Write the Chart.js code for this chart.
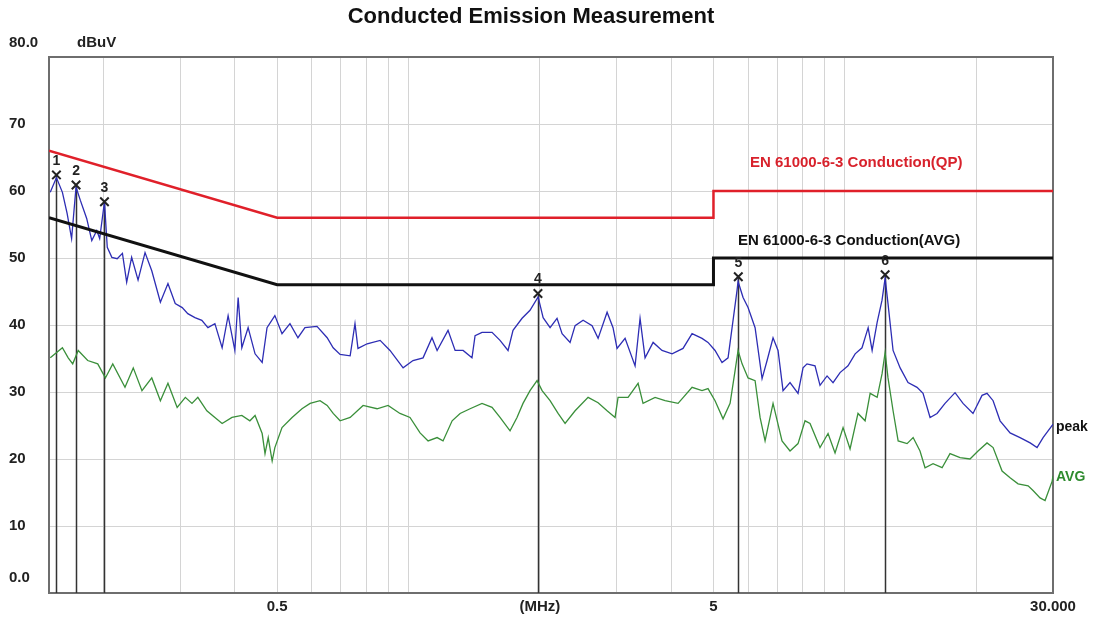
<!DOCTYPE html>
<html>
<head>
<meta charset="utf-8">
<title>Conducted Emission Measurement</title>
<script src="https://cdn.jsdelivr.net/npm/chart.js@4.4.1/dist/chart.umd.min.js"></script>
<style>
  html, body { margin: 0; padding: 0; background: #fff; }
  #wrap { width: 1097px; height: 618px; }
</style>
</head>
<body>
<div id="wrap"><canvas id="emissionChart"></canvas></div>
<script>
// Limit lines (MHz / dBuV)
const limitFreq = [0.15, 0.5, 5, 5, 30];
const qpLimit = [66, 56, 56, 60, 60];
const avgLimit = [56, 46, 46, 50, 50];

// Peak trace
const peakFreq = [0.151, 0.156, 0.161, 0.165, 0.169, 0.173, 0.177, 0.183, 0.188, 0.193, 0.196, 0.201, 0.204, 0.209, 0.215,
  0.221, 0.226, 0.232, 0.240, 0.249, 0.258, 0.270, 0.281, 0.292, 0.303, 0.312, 0.324, 0.336, 0.347, 0.360, 0.374, 0.386,
  0.400, 0.407, 0.415, 0.429, 0.445, 0.462, 0.474, 0.494, 0.513, 0.535, 0.558, 0.579, 0.617, 0.651, 0.672, 0.697, 0.735,
  0.754, 0.766, 0.804, 0.861, 0.907, 0.972, 1.024, 1.080, 1.132, 1.163, 1.232, 1.279, 1.334, 1.398, 1.421, 1.474, 1.554,
  1.621, 1.691, 1.736, 1.821, 1.899, 1.982, 2.035, 2.111, 2.190, 2.249, 2.346, 2.409, 2.513, 2.635, 2.720, 2.852, 2.943,
  3.006, 3.136, 3.306, 3.394, 3.485, 3.636, 3.811, 4.019, 4.258, 4.466, 4.707, 4.858, 5.042, 5.231, 5.400, 5.516, 5.663,
  5.693, 5.845, 6.001, 6.228, 6.462, 6.635, 6.847, 7.030, 7.218, 7.489, 7.812, 8.021, 8.191, 8.545, 8.773, 9.105, 9.397,
  9.751, 10.17, 10.56, 10.95, 11.31, 11.55, 11.86, 12.17, 12.37, 12.56, 12.90, 13.39, 13.96, 14.64, 15.11, 15.68, 16.27,
  16.97, 17.89, 18.66, 19.67, 20.63, 21.18, 21.87, 22.69, 23.92, 25.21, 26.59, 27.58, 28.47, 29.87, 30];
const peakLevel = [59.8, 62.0, 59.8, 56.7, 52.9, 60.6, 58.6, 55.9, 52.6, 54.1, 52.9, 58.4, 51.6, 50.1, 49.9,
  50.7, 46.4, 50.1, 46.7, 50.8, 48.1, 43.4, 46.2, 43.2, 42.6, 41.7, 41.1, 40.7, 39.6, 40.2, 36.6, 41.4,
  36.2, 44.1, 36.6, 39.6, 35.7, 34.4, 39.6, 41.4, 38.7, 40.2, 38.1, 39.6, 39.8, 38.1, 36.6, 35.6, 35.4,
  40.2, 36.5, 37.2, 37.7, 36.2, 33.6, 34.7, 35.1, 38.1, 36.2, 39.2, 36.2, 36.2, 35.1, 38.4, 38.9, 38.9,
  37.7, 36.2, 39.2, 41.0, 42.2, 44.2, 41.1, 39.6, 41.0, 38.7, 37.4, 39.9, 40.7, 39.9, 38.0, 41.9, 39.6,
  36.5, 38.0, 33.9, 41.0, 35.1, 37.4, 36.2, 35.7, 36.5, 38.7, 38.0, 37.4, 36.2, 34.4, 35.1, 39.6, 45.2,
  46.5, 44.1, 42.6, 39.6, 32.0, 34.7, 38.1, 36.2, 30.2, 31.4, 29.8, 33.6, 34.2, 33.9, 31.0, 32.4, 31.4,
  32.9, 33.9, 35.7, 36.6, 39.6, 36.2, 40.4, 43.7, 47.0, 43.2, 36.2, 33.6, 31.4, 30.7, 29.8, 26.2, 26.8,
  28.3, 29.9, 28.3, 26.8, 29.5, 29.8, 28.7, 25.7, 23.9, 23.2, 22.4, 21.7, 23.2, 25.0, 25.2];

// Average trace
const avgFreq = [0.151, 0.161, 0.166, 0.170, 0.175, 0.184, 0.194, 0.202, 0.210, 0.224, 0.234, 0.245, 0.258, 0.270, 0.281,
  0.295, 0.308, 0.319, 0.329, 0.345, 0.360, 0.374, 0.394, 0.415, 0.433, 0.445, 0.462, 0.469, 0.477, 0.487, 0.494, 0.513,
  0.541, 0.570, 0.595, 0.627, 0.651, 0.672, 0.697, 0.735, 0.787, 0.847, 0.898, 0.956, 1.008, 1.063, 1.109, 1.163, 1.200,
  1.259, 1.313, 1.384, 1.474, 1.554, 1.621, 1.709, 1.773, 1.830, 1.899, 1.971, 2.024, 2.111, 2.202, 2.285, 2.409, 2.580,
  2.720, 2.852, 2.975, 3.022, 3.186, 3.359, 3.448, 3.674, 3.873, 4.148, 4.466, 4.707, 4.858, 5.042, 5.259, 5.458, 5.604,
  5.693, 5.815, 6.001, 6.228, 6.394, 6.565, 6.847, 7.179, 7.489, 7.812, 8.106, 8.323, 8.773, 9.153, 9.497, 9.908, 10.28,
  10.72, 11.13, 11.43, 11.86, 12.17, 12.37, 12.56, 12.90, 13.25, 13.89, 14.34, 14.87, 15.27, 15.93, 16.71, 17.42, 18.37,
  19.36, 20.20, 21.18, 21.87, 22.93, 23.92, 24.95, 26.31, 27.00, 28.02, 28.77, 29.87, 30];
const avgLevel = [35.1, 36.6, 35.1, 34.2, 36.2, 34.7, 34.2, 32.1, 34.2, 30.7, 33.6, 30.2, 32.1, 28.7, 31.3,
  27.7, 29.2, 28.3, 29.2, 27.2, 26.2, 25.3, 26.2, 26.5, 25.7, 26.5, 23.8, 20.8, 23.2, 19.7, 21.7, 24.7,
  26.2, 27.5, 28.3, 28.7, 28.0, 26.8, 25.7, 26.2, 28.0, 27.5, 28.0, 26.8, 26.2, 23.9, 22.7, 23.2, 22.7,
  25.7, 26.8, 27.5, 28.3, 27.7, 26.2, 24.2, 26.2, 28.3, 30.2, 31.7, 30.2, 28.7, 26.8, 25.3, 27.2, 29.2,
  28.4, 27.2, 26.2, 29.2, 29.2, 31.3, 28.3, 29.2, 28.7, 28.3, 30.7, 30.2, 30.5, 28.7, 26.0, 28.3, 33.2,
  36.2, 34.2, 32.1, 31.7, 26.2, 22.7, 28.3, 22.7, 21.2, 22.3, 25.7, 25.3, 21.7, 23.8, 20.9, 24.7, 21.5,
  26.8, 25.7, 29.8, 29.2, 32.7, 35.9, 32.1, 27.2, 22.7, 22.3, 23.2, 21.2, 18.7, 19.3, 18.7, 20.8, 20.2,
  20.0, 21.2, 22.4, 21.7, 18.2, 17.2, 16.3, 16.0, 15.3, 14.2, 13.8, 16.7, 17.5];

// Marked peaks 1..6
const markerFreq = [0.156, 0.173, 0.201, 1.98, 5.70, 12.37];
const markerLevel = [62.4, 60.9, 58.4, 44.7, 47.2, 47.5];

// Axis ticks
const gridFreq = [0.15, 0.2, 0.3, 0.4, 0.5, 0.6, 0.7, 0.8, 0.9, 1, 2, 3, 4, 5, 6, 7, 8, 9, 10, 20, 30];
const xLabelFreq = [0.5, 2, 5, 30];
const xLabelText = ["0.5", "(MHz)", "5", "30.000"];

const toPoints = (xs, ys) => xs.map((f, i) => ({ x: f, y: ys[i] }));

const FONT = "Arial, 'Liberation Sans', sans-serif";

// Frame, marker drop lines and the loose text labels
const overlay = {
    id: "overlay",
    beforeDatasetsDraw(chart) {
        const { ctx, chartArea: a, scales: { x, y } } = chart;
        ctx.save();
        ctx.strokeStyle = "#6e6e6e";
        ctx.lineWidth = 2;
        ctx.strokeRect(a.left, a.top, a.right - a.left, a.bottom - a.top);

        ctx.strokeStyle = "#333";
        ctx.lineWidth = 1.5;
        markerFreq.forEach((f, i) => {
            const px = Math.round(x.getPixelForValue(f)) + 0.5;
            ctx.beginPath();
            ctx.moveTo(px, y.getPixelForValue(markerLevel[i]));
            ctx.lineTo(px, a.bottom);
            ctx.stroke();
        });
        ctx.restore();
    },
    afterDatasetsDraw(chart) {
        const { ctx, scales: { x, y } } = chart;
        ctx.save();
        ctx.textBaseline = "middle";

        // marker numbers
        ctx.font = `bold 14px ${FONT}`;
        ctx.fillStyle = "#222";
        ctx.textAlign = "center";
        markerFreq.forEach((f, i) => {
            ctx.fillText(String(i + 1), x.getPixelForValue(f), y.getPixelForValue(markerLevel[i]) - 14);
        });

        ctx.textAlign = "left";
        ctx.font = `bold 15px ${FONT}`;
        ctx.fillStyle = "#222";
        ctx.fillText("80.0", 9, 43);
        ctx.fillText("0.0", 9, 578);
        ctx.fillText("dBuV", 77, 43);

        ctx.fillStyle = "#d8222c";
        ctx.fillText("EN 61000-6-3 Conduction(QP)", 750, 163);
        ctx.fillStyle = "#111";
        ctx.fillText("EN 61000-6-3 Conduction(AVG)", 738, 241);

        ctx.font = `bold 14px ${FONT}`;
        ctx.fillStyle = "#111";
        ctx.fillText("peak", 1056, 427);
        ctx.fillStyle = "#2e8b2e";
        ctx.fillText("AVG", 1056, 477);
        ctx.restore();
    },
};

document.addEventListener("DOMContentLoaded", () => {
    const canvas = document.getElementById("emissionChart");

    new Chart(canvas, {
        type: "scatter",
        data: {
            datasets: [
                {
                    label: "QP limit",
                    data: toPoints(limitFreq, qpLimit),
                    showLine: true,
                    borderColor: "#e0202a",
                    borderWidth: 2.5,
                    pointRadius: 0,
                    order: 1,
                },
                {
                    label: "AVG limit",
                    data: toPoints(limitFreq, avgLimit),
                    showLine: true,
                    borderColor: "#111",
                    borderWidth: 3,
                    pointRadius: 0,
                    order: 2,
                },
                {
                    label: "peak",
                    data: toPoints(peakFreq, peakLevel),
                    showLine: true,
                    borderColor: "#2d2db4",
                    borderWidth: 1.3,
                    pointRadius: 0,
                    order: 3,
                },
                {
                    label: "AVG",
                    data: toPoints(avgFreq, avgLevel),
                    showLine: true,
                    borderColor: "#3a8f3a",
                    borderWidth: 1.3,
                    pointRadius: 0,
                    order: 4,
                },
                {
                    label: "markers",
                    data: toPoints(markerFreq, markerLevel),
                    showLine: false,
                    pointStyle: "crossRot",
                    pointRadius: 6,
                    borderWidth: 2,
                    borderColor: "#222",
                    order: 0,
                },
            ],
        },
        options: {
            responsive: true,
            maintainAspectRatio: false,
            animation: false,
            layout: {
                padding: { left: 9, right: 44, top: 0, bottom: 0 },
            },
            plugins: {
                legend: { display: false },
                tooltip: { enabled: false },
                title: {
                    display: true,
                    text: "Conducted Emission Measurement",
                    color: "#111",
                    font: { family: FONT, size: 22, weight: "bold", lineHeight: 1.2 },
                    padding: { top: 4, bottom: 26.6 },
                },
            },
            scales: {
                x: {
                    type: "logarithmic",
                    min: 0.15,
                    max: 30,
                    afterBuildTicks: (scale) => {
                        scale.ticks = gridFreq.map((v) => ({ value: v }));
                    },
                    afterFit: (scale) => {
                        scale.height = 25;
                    },
                    grid: { color: "#d4d4d4", lineWidth: 1, drawTicks: false },
                    border: { display: false },
                    ticks: {
                        autoSkip: false,
                        maxRotation: 0,
                        padding: 5,
                        color: "#222",
                        font: { family: FONT, size: 15, weight: "bold" },
                        callback: (v) => {
                            const i = xLabelFreq.indexOf(v);
                            return i >= 0 ? xLabelText[i] : "";
                        },
                    },
                },
                y: {
                    type: "linear",
                    min: 0,
                    max: 80,
                    afterFit: (scale) => {
                        scale.width = 40;
                    },
                    grid: { color: "#d4d4d4", lineWidth: 1, drawTicks: false },
                    border: { display: false },
                    ticks: {
                        stepSize: 10,
                        crossAlign: "far",
                        color: "#222",
                        font: { family: FONT, size: 15, weight: "bold" },
                        callback: (v) => (v === 0 || v === 80 ? "" : String(v)),
                    },
                },
            },
        },
        plugins: [overlay],
    });
});
</script>
</body>
</html>
